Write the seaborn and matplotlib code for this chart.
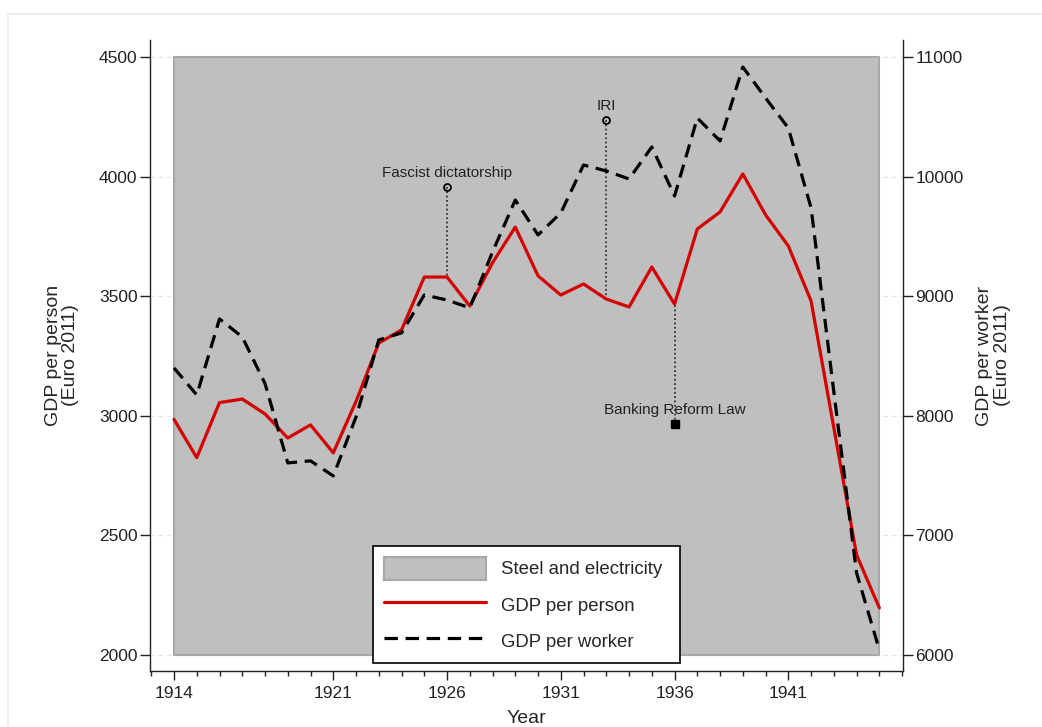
import matplotlib
matplotlib.use("Agg")
import matplotlib.pyplot as plt
import seaborn as sns
from matplotlib.patches import Rectangle
from matplotlib.ticker import MultipleLocator, FixedLocator

# datos
years = [1914, 1915, 1916, 1917, 1918, 1919, 1920, 1921, 1922, 1923, 1924,
         1925, 1926, 1927, 1928, 1929, 1930, 1931, 1932, 1933, 1934, 1935,
         1936, 1937, 1938, 1939, 1940, 1941, 1942, 1943, 1944, 1945]
gdp_person = [2985, 2825, 3055, 3070, 3008, 2907, 2962, 2845, 3060, 3304, 3359,
              3580, 3580, 3459, 3640, 3789, 3585, 3505, 3551, 3488, 3455, 3622,
              3467, 3781, 3852, 4011, 3840, 3710, 3480, 2950, 2418, 2197]
gdp_worker = [8400, 8174, 8810, 8659, 8270, 7606, 7623, 7497, 7990, 8634, 8693,
              9010, 8968, 8902, 9370, 9804, 9512, 9696, 10097, 10047, 9980, 10248,
              9838, 10490, 10298, 10916, 10657, 10406, 9738, 8200, 6686, 6043]

# periodo sombreado
band_years = [1914, 1945]
band_low = 2000
band_high = 4500

# eventos
events = ["Fascist dictatorship", "IRI", "Banking Reform Law"]
event_years = [1926, 1933, 1936]
event_levels = [3955, 4237, 2966]
event_markers = ["o", "o", "s"]

major_years = [1914, 1921, 1926, 1931, 1936, 1941]

sns.set_style("ticks")
plt.rcParams["font.family"] = ["Liberation Sans", "DejaVu Sans"]

fig = plt.figure(figsize=(10.42, 7.27), dpi=100)
ax = fig.add_axes([150 / 1042, 56 / 727, 753 / 1042, 631 / 727])
ax2 = ax.twinx()

# borde tenue de la figura
fig.patches.append(Rectangle((8 / 1042, -0.1), 1.2, (727 - 14) / 727 + 0.1,
                             transform=fig.transFigure, fill=False,
                             edgecolor="#e6ecee", lw=1.2, zorder=0))

ax.yaxis.grid(True, color="#dde8ec", linestyle=(0, (3, 3)), lw=1)
ax.set_axisbelow(True)

band = ax.fill_between(band_years, band_low, band_high, facecolor="#bfbfbf",
                       edgecolor="#a8a8a8", lw=1.5, zorder=1,
                       label="Steel and electricity")

sns.lineplot(x=years, y=gdp_person, ax=ax, color="#d40000", lw=2.3,
             zorder=3, label="GDP per person", legend=False)
sns.lineplot(x=years, y=gdp_worker, ax=ax2, color="black", lw=2.3,
             linestyle=(0, (4.2, 2.4)), zorder=3, label="GDP per worker",
             legend=False)

# anotaciones
for name, yr, lev, mk in zip(events, event_years, event_levels, event_markers):
    base = gdp_person[years.index(yr)]
    ax.plot([yr, yr], [lev, base], color="#333333", lw=1.3,
            linestyle=(0, (1, 1.4)), zorder=2)
    if mk == "o":
        ax.plot(yr, lev, marker="o", ms=5, mfc="none", mec="black", mew=1.3,
                zorder=4)
    else:
        ax.plot(yr, lev, marker="s", ms=6, color="black", zorder=4)
    ax.annotate(name, (yr, lev), xytext=(0, 10), textcoords="offset points",
                ha="center", va="center", fontsize=11, color="#222222")

ax.set_xlim(1912.945, 1946.04)
ax.set_ylim(1933, 4571)
ax2.set_ylim(5866, 11142)

ax.set_yticks([2000, 2500, 3000, 3500, 4000, 4500])
ax2.set_yticks([6000, 7000, 8000, 9000, 10000, 11000])
ax.xaxis.set_major_locator(FixedLocator(major_years))
ax.xaxis.set_minor_locator(MultipleLocator(1))
ax.set_xticklabels([str(y) for y in major_years])

ax.tick_params(axis="y", length=7, width=1, pad=2, labelsize=12.5, colors="#222222")
ax2.tick_params(axis="y", length=7, width=1, pad=2, labelsize=12.5, colors="#222222")
ax.tick_params(axis="x", which="major", length=6.5, width=1, pad=4,
               labelsize=12.5, colors="#222222")
ax.tick_params(axis="x", which="minor", length=3.5, width=1, colors="#222222")

for a in (ax, ax2):
    a.spines["top"].set_visible(False)
    for s in a.spines.values():
        s.set_color("#222222")
        s.set_linewidth(1)
ax.spines["right"].set_visible(False)
ax2.spines["left"].set_visible(False)
ax2.spines["bottom"].set_visible(False)

ax.set_xlabel("Year", fontsize=14, labelpad=7)
ax.set_ylabel("GDP per person\n(Euro 2011)", fontsize=14, labelpad=14,
              linespacing=1.05)
ax2.set_ylabel("GDP per worker\n(Euro 2011)", fontsize=14, labelpad=9,
               linespacing=1.05)

h1, l1 = ax.get_legend_handles_labels()
h2, l2 = ax2.get_legend_handles_labels()
leg = ax2.legend(h1 + h2, l1 + l2, loc="lower left",
                 bbox_to_anchor=(0.296, 0.0127, 0.408, 0.19), mode="expand",
                 fontsize=13.4, handlelength=5.5, handleheight=1.5,
                 handletextpad=0.8, labelspacing=0.72, borderpad=0.6,
                 borderaxespad=0, fancybox=False, framealpha=1)
leg.get_frame().set_edgecolor("black")
leg.get_frame().set_linewidth(1.2)

fig.savefig("out.png", dpi=100)
